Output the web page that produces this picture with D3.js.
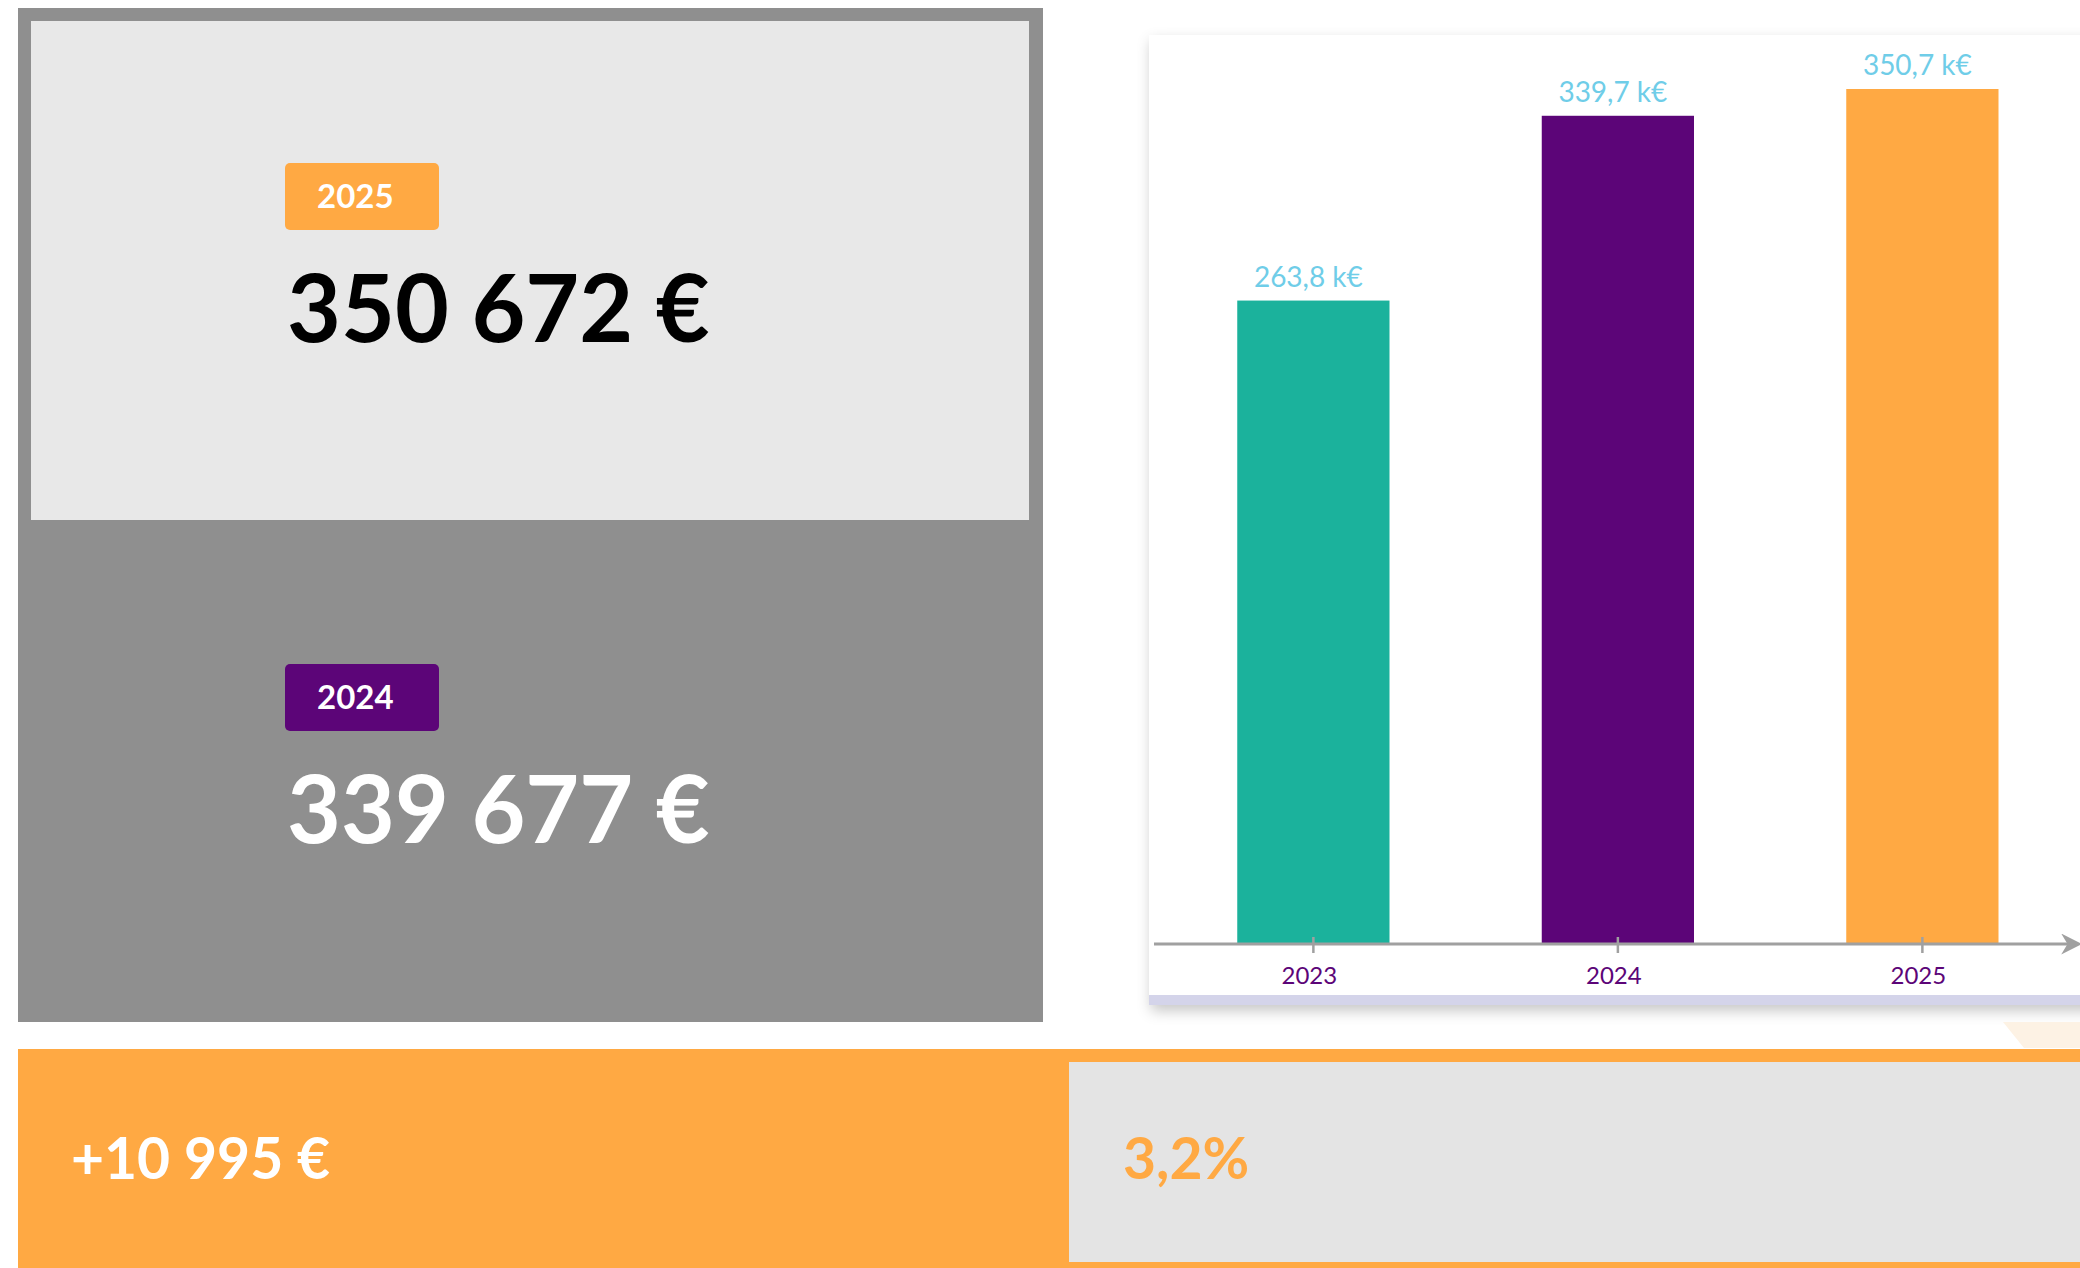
<!DOCTYPE html>
<html lang="fr">
<head>
<meta charset="UTF-8">
<title>Comparatif annuel</title>
<script src="https://d3js.org/d3.v7.min.js"></script>
<style>
    body { margin: 0; background: #ffffff; font-family: Lato, "Open Sans", sans-serif; }
    svg { display: block; }
</style>
</head>
<body>
<svg id="chart" width="2080" height="1268"></svg>
<script>
    // data
    const years = ["2023", "2024", "2025"]
    const amounts = [263800, 339677, 350672]
    const barColors = ["#1bb29c", "#5c0578", "#ffa943"]

    const W = 2080, H = 1268
    const svg = d3.select("#chart")

    const fr = d3.formatLocale({decimal: ",", thousands: " ", grouping: [3], currency: ["", " €"]})
    const fmtEuro = fr.format("$,.0f")
    const fmtK = v => fr.format(".1f")(v / 1000) + " k€"
    const fmtPct = fr.format(".1%")

    const cur = amounts[2], prev = amounts[1]
    const diff = cur - prev

    const defs = svg.append("defs")
    const shadow = defs.append("filter").attr("id", "cardShadow")
        .attr("x", "-5%").attr("y", "-5%").attr("width", "110%").attr("height", "112%")
    shadow.append("feDropShadow").attr("dx", 2).attr("dy", 6).attr("stdDeviation", 7)
        .attr("flood-color", "#000").attr("flood-opacity", 0.22)

    defs.append("marker").attr("id", "arrow")
        .attr("viewBox", "0 0 10 10").attr("refX", 8).attr("refY", 5)
        .attr("markerWidth", 7).attr("markerHeight", 7).attr("orient", "auto")
        .append("path").attr("d", "M0,0 L10,5 L0,10 L3,5 Z").attr("fill", "#a0a0a0")

    // ---- left KPI panel ----
    svg.append("rect").attr("x", 18).attr("y", 8).attr("width", 1025).attr("height", 1014).attr("fill", "#8f8f8f")
    svg.append("rect").attr("x", 31).attr("y", 21).attr("width", 998).attr("height", 499).attr("fill", "#e8e8e8")

    function kpi(y0, year, color, value, textColor) {
        svg.append("rect").attr("x", 285).attr("y", y0).attr("width", 154).attr("height", 67)
            .attr("rx", 5).attr("fill", color)
        svg.append("text").attr("x", 317).attr("y", y0 + 45)
            .attr("fill", "#fff").attr("font-weight", 700).attr("font-size", 33)
            .text(year)
        svg.append("text").attr("x", 287).attr("y", y0 + 179)
            .attr("fill", textColor).attr("font-weight", 700).attr("font-size", 93)
            .text(fmtEuro(value))
    }
    kpi(163, years[2], barColors[2], cur, "#000")
    kpi(664, years[1], barColors[1], prev, "#fff")

    // ---- bar chart card ----
    svg.append("rect").attr("x", 1149).attr("y", 35).attr("width", 960).attr("height", 970)
        .attr("fill", "#d4d4ea").attr("filter", "url(#cardShadow)")
    svg.append("rect").attr("x", 1149).attr("y", 35).attr("width", 960).attr("height", 960).attr("fill", "#fff")

    const x = d3.scaleBand().domain(years).range([1085, 2150.75]).paddingInner(0.5).paddingOuter(0.5)
    const y = d3.scaleLinear().domain([0, d3.max(amounts)]).range([943, 89])

    const g = svg.append("g")
    g.selectAll("rect.bar").data(years).join("rect").attr("class", "bar")
        .attr("x", d => x(d)).attr("width", x.bandwidth())
        .attr("y", (d, i) => y(amounts[i])).attr("height", (d, i) => y(0) - y(amounts[i]))
        .attr("fill", (d, i) => barColors[i])

    g.selectAll("text.val").data(years).join("text").attr("class", "val")
        .attr("x", d => x(d) + x.bandwidth() / 2 - 5)
        .attr("y", (d, i) => y(amounts[i]) - 14)
        .attr("text-anchor", "middle").attr("font-size", 28).attr("fill", "#6fcde8")
        .text((d, i) => fmtK(amounts[i]))

    // axis with arrow
    svg.append("line").attr("x1", 1154).attr("x2", 2078).attr("y1", 944).attr("y2", 944)
        .attr("stroke", "#a0a0a0").attr("stroke-width", 3).attr("marker-end", "url(#arrow)")
    const axis = svg.append("g").attr("transform", "translate(0,944)")
        .call(d3.axisBottom(x).tickSize(9).tickPadding(14))
    axis.select(".domain").remove()
    axis.selectAll(".tick line").attr("y1", -7).attr("stroke", "#a0a0a0").attr("stroke-width", 2.5)
    axis.selectAll(".tick text").attr("font-size", 24).attr("fill", "#5c0578")
        .attr("font-family", "Lato, sans-serif").attr("dx", -4)

    // faint decoration under the card
    svg.append("polygon").attr("points", "2003,1022 2080,1022 2080,1048 2024,1048").attr("fill", "#fdf2e4")

    // ---- bottom variation band ----
    svg.append("rect").attr("x", 18).attr("y", 1049).attr("width", W - 18).attr("height", H - 1049).attr("fill", "#ffa943")
    svg.append("rect").attr("x", 1069).attr("y", 1062).attr("width", W - 1069).attr("height", 200).attr("fill", "#e4e4e4")

    svg.append("text").attr("x", 71).attr("y", 1179)
        .attr("fill", "#fff").attr("font-weight", 700).attr("font-size", 57)
        .text("+" + fmtEuro(diff))
    svg.append("text").attr("x", 1123).attr("y", 1179)
        .attr("fill", "#ffa943").attr("font-weight", 700).attr("font-size", 57)
        .text(fmtPct(diff / prev).replace(/\s/g, ""))
</script>
</body>
</html>
